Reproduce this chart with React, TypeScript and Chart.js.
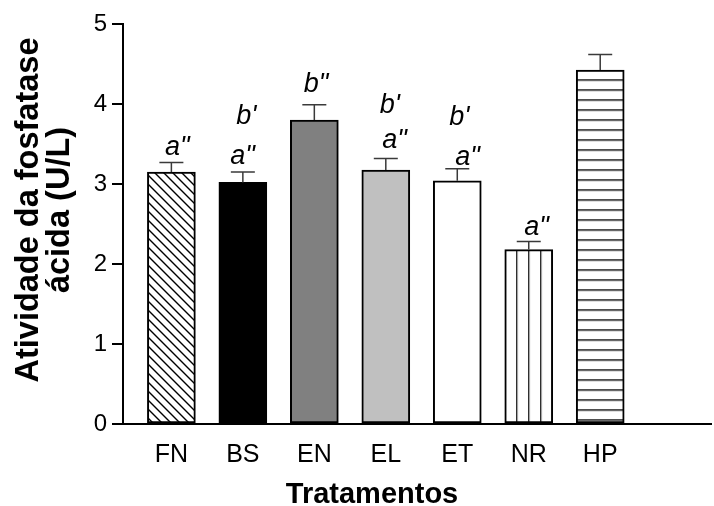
import React, { useEffect, useRef } from "react";
import { Chart, registerables } from "chart.js";

Chart.register(...registerables);

// Acid phosphatase activity per treatment (U/L), mean and standard error
const treatments = ["FN", "BS", "EN", "EL", "ET", "NR", "HP"];
const activity = [3.15, 3.02, 3.8, 3.175, 3.04, 2.18, 4.425];
const stdError = [0.12, 0.13, 0.19, 0.145, 0.15, 0.1, 0.195];
const yTickValues = [0, 1, 2, 3, 4, 5];

// Significance letters: bar index, text, horizontal shift and lift above the error cap (px)
const letters = [
  { bar: 0, text: 'a"', dx: -6.5, dy: 7 },
  { bar: 1, text: 'a"', dx: -12.5, dy: 8.5 },
  { bar: 1, text: "b'", dx: -6.5, dy: 48.5 },
  { bar: 2, text: 'b"', dx: -10.5, dy: 13 },
  { bar: 3, text: "b'", dx: -6, dy: 45.5 },
  { bar: 3, text: 'a"', dx: -3.5, dy: 10.5 },
  { bar: 4, text: "b'", dx: -8, dy: 44 },
  { bar: 4, text: 'a"', dx: -2, dy: 4 },
  { bar: 5, text: 'a"', dx: -4.5, dy: 6.5 },
];

const FONT = '"Liberation Sans", Arial, Helvetica, sans-serif';

function tile(w: number, h: number, draw: (c: CanvasRenderingContext2D) => void) {
  const cv = document.createElement("canvas");
  cv.width = w;
  cv.height = h;
  const c = cv.getContext("2d")!;
  c.fillStyle = "#ffffff";
  c.fillRect(0, 0, w, h);
  c.fillStyle = "#000000";
  c.strokeStyle = "#000000";
  draw(c);
  return document.createElement("canvas").getContext("2d")!.createPattern(cv, "repeat")!;
}

export default function App() {
  const canvasRef = useRef<HTMLCanvasElement | null>(null);

  useEffect(() => {
    const canvas = canvasRef.current;
    if (!canvas) return;

    const diagonal = tile(9, 9, (c) => {
      c.lineWidth = 1.4;
      c.beginPath();
      c.moveTo(-1, -1);
      c.lineTo(10, 10);
      c.moveTo(-1, 8);
      c.lineTo(1, 10);
      c.moveTo(8, -1);
      c.lineTo(10, 1);
      c.stroke();
    });
    const vertical = tile(12, 10, (c) => c.fillRect(0, 0, 1.2, 10));
    const horizontal = tile(10, 10, (c) => c.fillRect(0, 0, 10, 1.4));

    const fills: (string | CanvasPattern)[] = [
      diagonal,
      "#000000",
      "#808080",
      "#c0c0c0",
      "#ffffff",
      vertical,
      horizontal,
    ];

    const patternAnchor = {
      id: "patternAnchor",
      beforeDatasetsDraw(chart: any) {
        const meta = chart.getDatasetMeta(0);
        const nr = meta.data[5];
        const hp = meta.data[6];
        if (nr) vertical.setTransform(new DOMMatrix([1, 0, 0, 1, nr.x - 0.6, 0]));
        if (hp) horizontal.setTransform(new DOMMatrix([1, 0, 0, 1, 0, hp.y - 0.7]));
      },
    };

    const errorBars = {
      id: "errorBars",
      afterDatasetsDraw(chart: any) {
        const { ctx } = chart;
        const y = chart.scales.y;
        const meta = chart.getDatasetMeta(0);
        ctx.save();
        ctx.strokeStyle = "#3a3a3a";
        ctx.lineWidth = 1.5;
        activity.forEach((v, i) => {
          const bar = meta.data[i];
          const top = y.getPixelForValue(v + stdError[i]);
          const base = y.getPixelForValue(v);
          ctx.beginPath();
          ctx.moveTo(bar.x, base);
          ctx.lineTo(bar.x, top);
          ctx.moveTo(bar.x - 12, top);
          ctx.lineTo(bar.x + 12, top);
          ctx.stroke();
        });
        ctx.fillStyle = "#000000";
        ctx.font = `italic 27px ${FONT}`;
        ctx.textAlign = "left";
        ctx.textBaseline = "alphabetic";
        letters.forEach((l) => {
          const bar = meta.data[l.bar];
          const top = y.getPixelForValue(activity[l.bar] + stdError[l.bar]);
          ctx.fillText(l.text, bar.x + l.dx, top - l.dy);
        });
        ctx.restore();
      },
    };

    const axisTitles = {
      id: "axisTitles",
      afterDraw(chart: any) {
        const { ctx } = chart;
        ctx.save();
        ctx.fillStyle = "#000000";
        ctx.font = `bold 29px ${FONT}`;
        ctx.textAlign = "center";
        ctx.textBaseline = "alphabetic";
        ctx.fillText("Tratamentos", 372, 503);
        ctx.font = `bold 32.5px ${FONT}`;
        ctx.translate(0, 210);
        ctx.rotate(-Math.PI / 2);
        ctx.fillText("Atividade da fosfatase", 0, 38);
        ctx.fillText("ácida (U/L)", 0, 69);
        ctx.restore();
      },
    };

    const chart = new Chart(canvas, {
      type: "bar",
      data: {
        datasets: [
          {
            data: activity.map((v, i) => ({ x: i + 1, y: v })),
            backgroundColor: fills as any,
            borderColor: "#000000",
            borderWidth: 2,
            borderSkipped: false,
            barThickness: 48,
          },
        ],
      },
      options: {
        responsive: false,
        animation: false,
        devicePixelRatio: 1,
        layout: { padding: { top: 24, right: 3, left: 0, bottom: 0 } },
        plugins: {
          legend: { display: false },
          tooltip: { enabled: false },
        },
        scales: {
          x: {
            type: "linear",
            offset: false,
            min: 0.323,
            max: 8.55,
            afterBuildTicks: (scale: any) => {
              scale.ticks = treatments.map((_, i) => ({ value: i + 1 }));
            },
            afterFit: (scale: any) => {
              scale.height = 82;
            },
            grid: { display: false },
            border: { display: true, color: "#000000", width: 2 },
            ticks: {
              autoSkip: false,
              maxRotation: 0,
              padding: 8,
              color: "#000000",
              font: { family: FONT, size: 25 },
              callback: (v: any) => treatments[Number(v) - 1] ?? "",
            },
          },
          y: {
            min: 0,
            max: 5,
            afterBuildTicks: (scale: any) => {
              scale.ticks = yTickValues.map((v) => ({ value: v }));
            },
            afterFit: (scale: any) => {
              scale.width = 123;
            },
            grid: {
              drawOnChartArea: false,
              drawTicks: true,
              tickLength: 11,
              color: "#000000",
              lineWidth: 2,
            },
            border: { display: true, color: "#000000", width: 2 },
            ticks: {
              padding: 5,
              color: "#000000",
              font: { family: FONT, size: 24 },
            },
          },
        },
      },
      plugins: [patternAnchor, errorBars, axisTitles],
    });

    return () => chart.destroy();
  }, []);

  return (
    <div style={{ position: "fixed", left: 0, top: 0, width: 714, height: 506, background: "#ffffff" }}>
      <canvas ref={canvasRef} width={714} height={506} style={{ display: "block" }} />
    </div>
  );
}
